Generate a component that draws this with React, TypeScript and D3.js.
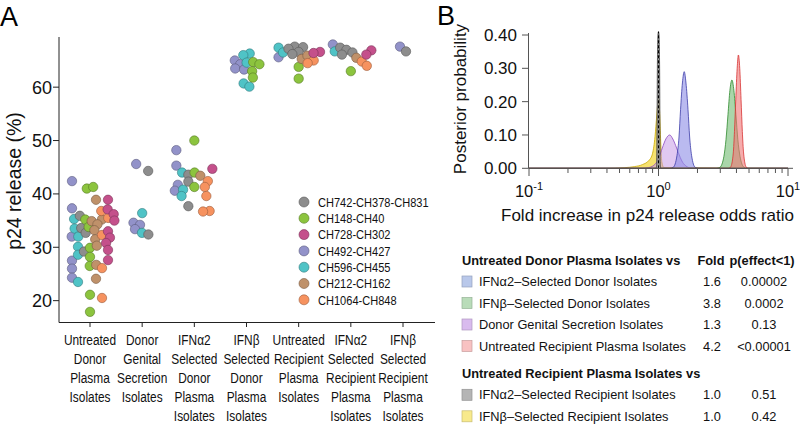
import { useMemo } from "react";
import * as d3 from "d3";

const W = 800;
const H = 427;

// ---------- panel A ----------
const categoryLabels = [
  ["Untreated", "Donor", "Plasma", "Isolates"],
  ["Donor", "Genital", "Secretion", "Isolates"],
  ["IFNα2", "Selected", "Donor", "Plasma", "Isolates"],
  ["IFNβ", "Selected", "Donor", "Plasma", "Isolates"],
  ["Untreated", "Recipient", "Plasma", "Isolates"],
  ["IFNα2", "Selected", "Recipient", "Plasma", "Isolates"],
  ["IFNβ", "Selected", "Recipient", "Plasma", "Isolates"],
];
const yTicksA = [20, 30, 40, 50, 60];

const strainNames = [
  "CH742-CH378-CH831",
  "CH148-CH40",
  "CH728-CH302",
  "CH492-CH427",
  "CH596-CH455",
  "CH212-CH162",
  "CH1064-CH848",
];
const strainColors = ["#8d8d8d", "#8cc43e", "#c4508b", "#9292c9", "#4fc3c6", "#bf916a", "#f6925f"];
// left-to-right order of strains inside each column
const swarmOrder = [
  "CH492-CH427",
  "CH596-CH455",
  "CH742-CH378-CH831",
  "CH148-CH40",
  "CH212-CH162",
  "CH1064-CH848",
  "CH728-CH302",
];

// p24 release (%) per isolate, by column and strain
const untreatedDonor: Record<string, number[]> = {
  "CH492-CH427": [42.4, 37.3, 32.0, 27.5, 26.0, 24.3],
  "CH596-CH455": [35.3, 33.5, 32.0, 30.1, 28.6, 23.5],
  "CH742-CH378-CH831": [35.9, 33.6, 32.7, 29.2],
  "CH148-CH40": [41.0, 41.3, 35.2, 33.8, 29.9, 28.2, 26.5, 21.1, 17.9],
  "CH212-CH162": [38.9, 35.2, 34.9, 34.3, 33.2, 31.5, 30.3, 26.7, 24.1],
  "CH1064-CH848": [36.8, 35.5, 32.3, 26.1, 20.5],
  "CH728-CH302": [38.9, 37.1, 36.2, 35.0, 33.0, 31.8, 30.8, 29.5, 27.6],
};
const genitalSecretion: Record<string, number[]> = {
  "CH492-CH427": [45.6, 34.6, 34.2, 33.4],
  "CH596-CH455": [36.4, 32.7],
  "CH742-CH378-CH831": [44.3, 32.4],
};
const ifna2Donor: Record<string, number[]> = {
  "CH492-CH427": [48.2, 45.3, 41.7, 40.6],
  "CH596-CH455": [44.0, 40.8, 39.6],
  "CH742-CH378-CH831": [43.6, 42.3, 37.7],
  "CH148-CH40": [50.0, 44.0, 41.3],
  "CH212-CH162": [43.4],
  "CH1064-CH848": [42.4, 41.3, 39.6, 36.8, 36.7],
  "CH728-CH302": [44.7],
};
const ifnbDonor: Record<string, number[]> = {
  "CH492-CH427": [65.0, 64.3, 63.5, 63.3],
  "CH596-CH455": [66.3, 66.0, 64.6, 60.7, 60.1],
  "CH148-CH40": [64.7, 64.3, 63.0, 61.8],
};
const untreatedRecipient: Record<string, number[]> = {
  "CH492-CH427": [65.6],
  "CH596-CH455": [67.4, 66.5],
  "CH742-CH378-CH831": [67.6, 67.5, 67.2, 66.6, 66.2],
  "CH148-CH40": [63.8, 61.6],
  "CH212-CH162": [65.3, 65.9],
  "CH1064-CH848": [65.0, 64.5],
  "CH728-CH302": [66.6, 66.4],
};
const ifna2Recipient: Record<string, number[]> = {
  "CH492-CH427": [68.0],
  "CH596-CH455": [66.7],
  "CH742-CH378-CH831": [67.4, 67.0, 66.5, 66.1],
  "CH148-CH40": [63.0],
  "CH212-CH162": [65.5],
  "CH1064-CH848": [64.8, 64.0],
  "CH728-CH302": [66.9, 66.1],
};
const ifnbRecipient: Record<string, number[]> = {
  "CH492-CH427": [67.6],
  "CH742-CH378-CH831": [66.7],
};
const columnsA = [
  untreatedDonor,
  genitalSecretion,
  ifna2Donor,
  ifnbDonor,
  untreatedRecipient,
  ifna2Recipient,
  ifnbRecipient,
];

// ---------- panel B ----------
const yTicksB = [0, 0.1, 0.2, 0.3, 0.4];
const xMajorB = [0.1, 1, 10];
const xExpB = ["-1", "0", "1"];

// posterior densities (fold, density)
const ifnbRecipFold = [0.1, 0.4, 0.55, 0.65, 0.75, 0.85, 0.9, 0.94, 0.97, 0.99, 1.0, 1.02, 1.04, 1.06, 1.1, 10];
const ifnbRecipDens = [0, 0, 0.002, 0.005, 0.011, 0.025, 0.045, 0.095, 0.16, 0.2, 0.21, 0.17, 0.08, 0.02, 0.002, 0];
const genitalFold = [0.1, 0.75, 0.84, 0.95, 1.01, 1.07, 1.14, 1.22, 1.29, 1.38, 1.47, 1.56, 1.77, 2.0, 10];
const genitalDens = [0, 0, 0.002, 0.014, 0.033, 0.061, 0.088, 0.1, 0.088, 0.061, 0.033, 0.014, 0.001, 0, 0];
const ifna2DonorFold = [0.1, 1.22, 1.3, 1.39, 1.44, 1.48, 1.53, 1.58, 1.63, 1.69, 1.74, 1.8, 1.92, 2.05, 10];
const ifna2DonorDens = [0, 0, 0.003, 0.039, 0.094, 0.176, 0.256, 0.29, 0.256, 0.176, 0.094, 0.039, 0.003, 0, 0];
const ifnbDonorFold = [0.1, 2.8, 2.98, 3.2, 3.32, 3.44, 3.56, 3.69, 3.82, 3.96, 4.1, 4.26, 4.57, 4.8, 10];
const ifnbDonorDens = [0, 0, 0.003, 0.036, 0.086, 0.161, 0.234, 0.265, 0.234, 0.161, 0.086, 0.036, 0.003, 0, 0];
const untreatedRecipFold = [0.1, 3.5, 3.61, 3.78, 3.86, 3.95, 4.05, 4.14, 4.24, 4.34, 4.44, 4.54, 4.75, 4.9, 10];
const untreatedRecipDens = [0, 0, 0.004, 0.046, 0.11, 0.206, 0.3, 0.34, 0.3, 0.206, 0.11, 0.046, 0.004, 0, 0];
const ifna2RecipFold = [0.1, 0.96, 0.97, 0.98, 0.99, 1.0, 1.01, 1.02, 1.03, 1.04, 10];
const ifna2RecipDens = [0, 0, 0.02, 0.3, 0.4, 0.41, 0.4, 0.3, 0.02, 0, 0];

const posteriorFolds = [ifnbRecipFold, genitalFold, ifna2DonorFold, ifnbDonorFold, untreatedRecipFold, ifna2RecipFold];
const posteriorDens = [ifnbRecipDens, genitalDens, ifna2DonorDens, ifnbDonorDens, untreatedRecipDens, ifna2RecipDens];
const posteriorFill = ["#f2d532", "#c79ae6", "#8c8ce6", "#72bb72", "#f07474", "#9a9a9a"];
const posteriorStroke = ["#caa800", "#8a48c0", "#3c3ca8", "#2f8a2f", "#d83434", "#3a3a3a"];
const posteriorOpacity = [0.7, 0.55, 0.6, 0.6, 0.6, 0.9];

const donorRows = [
  "IFNα2–Selected Donor Isolates",
  "IFNβ–Selected Donor Isolates",
  "Donor Genital Secretion Isolates",
  "Untreated Recipient Plasma Isolates",
];
const donorFoldText = ["1.6", "3.8", "1.3", "4.2"];
const donorPText = ["0.00002", "0.0002", "0.13", "<0.00001"];
const donorSwatch = ["#b9c8ea", "#b9dcb9", "#d9bbee", "#f8c2c2"];
const recipRows = ["IFNα2–Selected Recipient Isolates", "IFNβ–Selected Recipient Isolates"];
const recipFoldText = ["1.0", "1.0"];
const recipPText = ["0.51", "0.42"];
const recipSwatch = ["#b5b5b5", "#f8ea8c"];

const sans = '"Liberation Sans", Arial, Helvetica, sans-serif';
// the figure uses a condensed face; squeeze Liberation Sans horizontally
const squeeze = 0.82;

type Node = { strain: string; value: number; tx: number; x: number; y: number; fy: number };

export default function App() {
  const xA = d3.scalePoint<number>().domain(d3.range(7)).range([90, 403]);
  const yA = d3.scaleLinear().domain([16, 69.4]).range([322, 37]);
  const colorOf = d3.scaleOrdinal<string, string>().domain(strainNames).range(strainColors);

  const nodes = useMemo(() => {
    const out: Node[] = [];
    columnsA.forEach((col, ci) => {
      const present = swarmOrder.filter((s) => col[s]);
      present.forEach((s, si) => {
        const tx = (xA(ci) as number) + (si - (present.length - 1) / 2) * 6;
        col[s].forEach((v) => {
          const y = yA(v);
          out.push({ strain: s, value: v, tx, x: tx, y, fy: y });
        });
      });
    });
    const sim = d3
      .forceSimulation(out as any)
      .force("x", d3.forceX((d: any) => d.tx).strength(0.15))
      .force("collide", d3.forceCollide(3.3))
      .stop();
    for (let i = 0; i < 250; i++) sim.tick();
    return out;
  }, []);

  const xB = d3.scaleLog().domain([0.1, 10]).range([529, 788]);
  const yB = d3.scaleLinear().domain([0, 0.4]).range([168.3, 35]);
  const minorB = [2, 3, 4, 5, 6, 7, 8, 9].flatMap((m) => [m * 0.1, m]);

  const area = d3
    .area<[number, number]>()
    .x((d) => xB(d[0]))
    .y0(yB(0))
    .y1((d) => yB(d[1]))
    .curve(d3.curveMonotoneX);

  const rowY = (i: number) => 260 + i * 21.5;
  const recipY = (i: number) => 373.3 + i * 21.5;

  return (
    <svg
      width={W}
      height={H}
      style={{ position: "absolute", left: 0, top: 0 }}
      fontFamily={sans}
    >
      <rect width={W} height={H} fill="#fff" />

      {/* ---- panel A ---- */}
      <text x={0} y={26} fontSize={27}>
        A
      </text>
      <line x1={59} x2={59} y1={37} y2={322.5} stroke="#222" />
      <line x1={59} x2={435} y1={322.5} y2={322.5} stroke="#222" />
      {yTicksA.map((t) => (
        <g key={t}>
          <line x1={53} x2={59} y1={yA(t)} y2={yA(t)} stroke="#222" />
          <text x={52} y={yA(t)} dy="0.36em" textAnchor="end" fontSize={18} fill="#111">
            {t}
          </text>
        </g>
      ))}
      <text
        transform="translate(21,181) rotate(-90)"
        textAnchor="middle"
        fontSize={19.5}
        fill="#111"
      >
        p24 release (%)
      </text>
      {categoryLabels.map((lines, i) => (
        <g key={i}>
          <line x1={xA(i)} x2={xA(i)} y1={322.5} y2={327} stroke="#222" />
          <g transform={`translate(${xA(i)},0) scale(${squeeze},1)`}>
            <text textAnchor="middle" fontSize={14.5} fill="#111">
              {lines.map((l, j) => (
                <tspan key={j} x={0} y={344.8 + j * 19}>
                  {l}
                </tspan>
              ))}
            </text>
          </g>
        </g>
      ))}
      {nodes.map((d, i) => {
        const c = colorOf(d.strain);
        return (
          <circle
            key={i}
            cx={d.x}
            cy={d.y}
            r={4.7}
            fill={c}
            stroke={d3.color(c)!.darker(1.3).formatHex()}
            strokeWidth={0.6}
          />
        );
      })}
      {strainNames.map((s, i) => (
        <g key={s} transform={`translate(304, ${202 + i * 16.3})`}>
          <circle
            r={5}
            fill={colorOf(s)}
            stroke={d3.color(colorOf(s))!.darker(1.3).formatHex()}
            strokeWidth={0.6}
          />
          <g transform={`translate(14,0) scale(${squeeze},1)`}>
            <text dy="0.36em" fontSize={13.5} fill="#111">
              {s}
            </text>
          </g>
        </g>
      ))}

      {/* ---- panel B ---- */}
      <text x={437} y={25} fontSize={27}>
        B
      </text>
      <text
        transform="translate(466,99) rotate(-90)"
        textAnchor="middle"
        fontSize={17}
        fill="#111"
      >
        Posterior probability
      </text>
      {posteriorFolds.map((folds, k) => {
        const pts = folds.map((f, j) => [f, posteriorDens[k][j]] as [number, number]);
        return (
          <g key={k}>
            <path d={area(pts) || ""} fill={posteriorFill[k]} fillOpacity={posteriorOpacity[k]} />
            <path
              d={area.lineY1()(pts) || ""}
              fill="none"
              stroke={posteriorStroke[k]}
              strokeWidth={0.8}
            />
          </g>
        );
      })}
      <line
        x1={xB(1)}
        x2={xB(1)}
        y1={yB(0)}
        y2={yB(0.41)}
        stroke="#000"
        strokeWidth={1}
        strokeDasharray="3,2"
      />
      <line x1={528.5} x2={528.5} y1={33} y2={168.3} stroke="#555" />
      <line x1={528.5} x2={793} y1={168.3} y2={168.3} stroke="#555" />
      {yTicksB.map((t) => (
        <g key={t}>
          <line x1={522} x2={528.5} y1={yB(t)} y2={yB(t)} stroke="#555" />
          <text x={517} y={yB(t)} dy="0.36em" textAnchor="end" fontSize={17} fill="#111">
            {t.toFixed(2)}
          </text>
        </g>
      ))}
      {minorB.map((t) => (
        <line key={t} x1={xB(t)} x2={xB(t)} y1={168.3} y2={173} stroke="#555" />
      ))}
      {xMajorB.map((t, i) => (
        <g key={t}>
          <line x1={xB(t)} x2={xB(t)} y1={168.3} y2={176} stroke="#555" />
          <text x={xB(t)} y={197} textAnchor="middle" fontSize={16.5} fill="#111">
            10
            <tspan dy={-7} fontSize={11}>
              {xExpB[i]}
            </tspan>
          </text>
        </g>
      ))}
      <text x={647.5} y={221} textAnchor="middle" fontSize={17} fill="#111">
        Fold increase in p24 release odds ratio
      </text>

      {/* table */}
      <g fontSize={12.8} fill="#111">
        <text x={462} y={rowY(0) + 4.6} fontWeight={700}>
          Untreated Donor Plasma Isolates vs
        </text>
        <text x={711} y={rowY(0) + 4.6} fontWeight={700} textAnchor="middle">
          Fold
        </text>
        <text x={762} y={rowY(0) + 4.6} fontWeight={700} textAnchor="middle">
          p(effect&lt;1)
        </text>
        {donorRows.map((r, i) => (
          <g key={r}>
            <rect
              x={462}
              y={rowY(i + 1) - 5.5}
              width={10}
              height={11}
              fill={donorSwatch[i]}
              stroke={d3.color(donorSwatch[i])!.darker(0.6).formatHex()}
              strokeWidth={0.7}
            />
            <text x={479} y={rowY(i + 1) + 4.6}>
              {r}
            </text>
            <text x={712} y={rowY(i + 1) + 4.6} textAnchor="middle">
              {donorFoldText[i]}
            </text>
            <text x={764} y={rowY(i + 1) + 4.6} textAnchor="middle">
              {donorPText[i]}
            </text>
          </g>
        ))}
        <text x={462} y={recipY(0) + 4.6} fontWeight={700}>
          Untreated Recipient Plasma Isolates vs
        </text>
        {recipRows.map((r, i) => (
          <g key={r}>
            <rect
              x={462}
              y={recipY(i + 1) - 5.5}
              width={10}
              height={11}
              fill={recipSwatch[i]}
              stroke={d3.color(recipSwatch[i])!.darker(0.6).formatHex()}
              strokeWidth={0.7}
            />
            <text x={479} y={recipY(i + 1) + 4.6}>
              {r}
            </text>
            <text x={712} y={recipY(i + 1) + 4.6} textAnchor="middle">
              {recipFoldText[i]}
            </text>
            <text x={764} y={recipY(i + 1) + 4.6} textAnchor="middle">
              {recipPText[i]}
            </text>
          </g>
        ))}
      </g>
    </svg>
  );
}
